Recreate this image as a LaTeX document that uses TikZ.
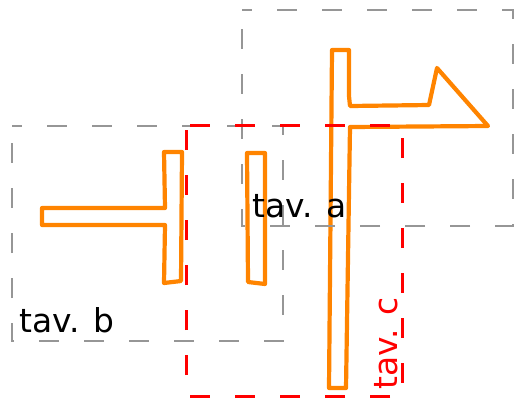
\documentclass[tikz,border=0pt]{standalone}
\usepackage{fontspec}
\setsansfont{DejaVu Sans}
\usepackage{tikz}
\definecolor{tavorange}{RGB}{255,132,0}
\definecolor{tavgray}{RGB}{150,150,150}

\begin{document}
\begin{tikzpicture}[x=1bp, y=-1bp,
  piece/.style={draw=tavorange, line width=4.2bp, line join=round},
  tavbox/.style={tavgray, line width=2bp, dash pattern=on 20bp off 25bp, dash phase=10bp},
  tavcbox/.style={red, line width=3bp, dash pattern=on 20bp off 25bp, dash phase=-4bp},
  tavlabel/.style={font=\sffamily\fontsize{33}{36}\selectfont, inner sep=0pt, anchor=base west}]
\useasboundingbox (0,0) rectangle (516,400);
\draw[piece] (42,208) -- (165,208) -- (164,152) -- (182,152) -- (181,281) -- (164,283) -- (165,225) -- (42,225) -- cycle;
\draw[piece] (247,153) -- (265,153) -- (265,284) -- (248,282) -- cycle;
\draw[piece] (332,50) -- (349,50) -- (349,96) -- (350,106) -- (429,105) -- (437,68) -- (488,126)
  -- (350,127) -- (346,388) -- (329,388) -- cycle;
\draw[tavbox] (242,10) -- (513,10) -- (513,226) -- (242,226) -- cycle;
\draw[tavbox] (12,126) -- (283,126) -- (283,341) -- (12,341) -- cycle;
\draw[tavcbox] (186,125) -- (402,125) -- (402,396) -- (186,396) -- cycle;
\node[tavlabel] (tava) at (252,217) {tav. a};
\node[tavlabel] (tavb) at (19,332) {tav. b};
\node[tavlabel, text=red, rotate=90] (tavc) at (397,390) {tav. c};
\end{tikzpicture}
\end{document}
